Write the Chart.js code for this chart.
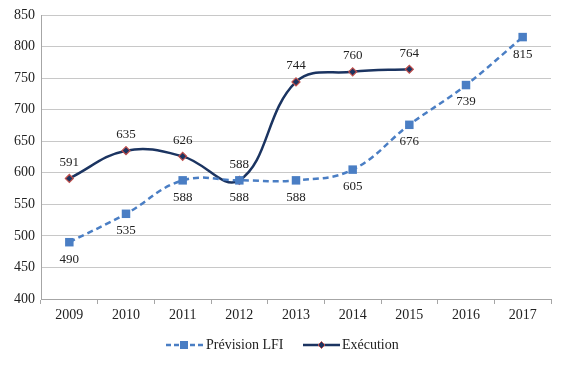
<!DOCTYPE html>
<html>
<head>
<meta charset="utf-8">
<script src="https://cdn.jsdelivr.net/npm/chart.js@4"></script>
<style>
  html, body { margin: 0; padding: 0; background: #fff; }
  #wrap { width: 567px; height: 366px; }
</style>
</head>
<body>
<div id="wrap"><canvas id="myChart" width="567" height="366"></canvas></div>
<script>
const YEARS = ["2009", "2010", "2011", "2012", "2013", "2014", "2015", "2016", "2017"];
const PREVISION = [490, 535, 588, 588, 588, 605, 676, 739, 815];
const EXECUTION = [591, 635, 626, 588, 744, 760, 764, null, null];
const NAMES = ["Prévision LFI", "Exécution"];

const FONT = "'Liberation Serif', 'DejaVu Serif', serif";
const BLUE = "#4a7ec4";
const NAVY = "#1b3461";
const RED = "#c0504d";

// value labels: execution above, prevision below
const labelPlugin = {
  id: "valueLabels",
  afterDatasetsDraw(chart) {
    const ctx = chart.ctx;
    ctx.save();
    ctx.font = "13px " + FONT;
    ctx.fillStyle = "#222";
    ctx.textAlign = "center";
    ctx.textBaseline = "middle";
    chart.data.datasets.forEach((ds, i) => {
      const meta = chart.getDatasetMeta(i);
      meta.data.forEach((pt, j) => {
        const v = ds.data[j];
        if (v == null) return;
        const dy = i === 0 ? 17 : -16;
        ctx.fillText(String(v), pt.x, pt.y + dy);
      });
    });
    ctx.restore();
  }
};

// legend with line sample through the marker
const legendPlugin = {
  id: "lineLegend",
  afterDraw(chart) {
    const ctx = chart.ctx;
    const y = 345;
    ctx.save();
    ctx.font = "14px " + FONT;
    ctx.textBaseline = "middle";
    ctx.fillStyle = "#222";
    // Prevision
    let x = 166;
    ctx.strokeStyle = BLUE;
    ctx.lineWidth = 2.5;
    ctx.setLineDash([5, 3]);
    ctx.beginPath(); ctx.moveTo(x, y); ctx.lineTo(x + 38, y); ctx.stroke();
    ctx.setLineDash([]);
    ctx.fillStyle = BLUE;
    ctx.fillRect(x + 14, y - 4, 8, 8);
    ctx.fillStyle = "#222";
    ctx.fillText(NAMES[0], x + 40, y);
    // Execution
    x = 303;
    ctx.strokeStyle = NAVY;
    ctx.lineWidth = 2.5;
    ctx.beginPath(); ctx.moveTo(x, y); ctx.lineTo(x + 37, y); ctx.stroke();
    ctx.fillStyle = NAVY;
    ctx.strokeStyle = RED;
    ctx.lineWidth = 1;
    ctx.beginPath();
    ctx.moveTo(x + 18.5, y - 3.5); ctx.lineTo(x + 22, y); ctx.lineTo(x + 18.5, y + 3.5); ctx.lineTo(x + 15, y);
    ctx.closePath(); ctx.fill(); ctx.stroke();
    ctx.fillStyle = "#222";
    ctx.fillText(NAMES[1], x + 39, y);
    ctx.restore();
  }
};

const ctx = document.getElementById("myChart");
new Chart(ctx, {
  type: "line",
  data: {
    labels: YEARS,
    datasets: [
      {
        label: NAMES[0],
        data: PREVISION,
        borderColor: BLUE,
        backgroundColor: BLUE,
        borderWidth: 2.5,
        borderDash: [6, 4],
        tension: 0.4,
        pointStyle: "rect",
        pointRadius: 6,
        pointBorderWidth: 0,
        pointBackgroundColor: BLUE
      },
      {
        label: NAMES[1],
        data: EXECUTION,
        borderColor: NAVY,
        backgroundColor: NAVY,
        borderWidth: 2.5,
        tension: 0.4,
        pointStyle: "rectRot",
        pointRadius: 4,
        pointBorderWidth: 1.2,
        pointBorderColor: RED,
        pointBackgroundColor: NAVY
      }
    ]
  },
  options: {
    responsive: false,
    animation: false,
    layout: { padding: { top: 15, right: 16, left: 0, bottom: 0 } },
    plugins: {
      legend: { display: false },
      tooltip: { enabled: false }
    },
    scales: {
      x: {
        offset: true,
        afterFit(scale) { scale.height = 67; },
        grid: {
          offset: true,
          drawOnChartArea: false,
          drawTicks: true,
          tickLength: 5,
          color: "#a6a6a6"
        },
        border: { color: "#a6a6a6" },
        ticks: { color: "#222", font: { family: FONT, size: 14 }, padding: 3 }
      },
      y: {
        min: 400,
        max: 850,
        afterFit(scale) { scale.width = 41; },
        grid: { color: "#c8c8c8", drawTicks: false },
        border: { color: "#a6a6a6" },
        ticks: { stepSize: 50, color: "#222", font: { family: FONT, size: 14 }, padding: 6 }
      }
    }
  },
  plugins: [labelPlugin, legendPlugin]
});
</script>
</body>
</html>
